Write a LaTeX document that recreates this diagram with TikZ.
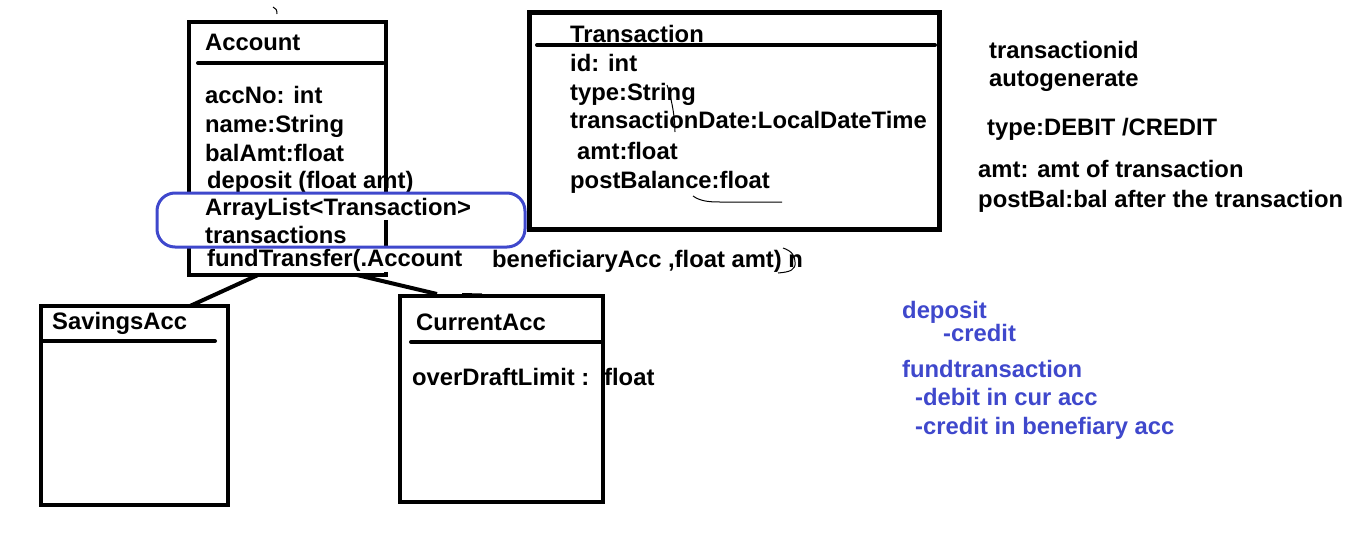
\documentclass[tikz,border=0pt]{standalone}
\usepackage{fontspec}
\setmainfont{Liberation Sans}
\definecolor{paintblue}{HTML}{3F48CC}
\begin{document}
\begin{tikzpicture}[x=1pt,y=-1pt,
  txt/.style={anchor=base west,inner sep=0pt,font=\fontsize{23.8}{28}\selectfont\bfseries},
  bluetxt/.style={txt,text=paintblue},
  umlbox/.style={draw,line width=4.5pt,inner sep=0pt,outer sep=0pt,rectangle},
  sepline/.style={line width=4pt,line cap=round},
  conn/.style={line width=4pt},
  pen/.style={line width=1pt},
  erase/.style={fill=white,draw=none}]
\useasboundingbox (0,0) rectangle (1349,544);

% ---------- Account ----------
\node[umlbox,minimum width=197pt,minimum height=253pt] (acc) at (287.5,148.5) {};
\draw[sepline] (198,63) -- (383,63);
\node[txt] (accT) at (205,50) {Account};
\node[txt] (a1) at (205,103) {accNo: int};
\node[txt] (a2) at (205,132) {name:String};
\node[txt] (a3) at (205,161) {balAmt:float};
\node[txt] (a4) at (207,188) {deposit (float amt)};
\fill[erase] (184,194) rectangle (474,220);
\node[txt] (a5) at (205,215) {ArrayList<Transaction>};
\fill[erase] (184,220) rectangle (350,247);
\node[txt] (a6) at (205,243) {transactions};
\fill[erase] (200,248) rectangle (466,272);
\node[txt] (a7) at (207,266) {fundTransfer(.Account};
\node[txt] (a8) at (492,267) {beneficiaryAcc ,float amt)\ n};
\node[draw=paintblue,line width=3pt,rounded corners=18pt,minimum width=368pt,minimum height=54pt,inner sep=0pt,outer sep=0pt] (hl) at (341,220) {};
\draw[pen] (273,7) .. controls (276,8) and (277,10) .. (277,14);

% ---------- Transaction ----------
\node[umlbox,minimum width=410pt,minimum height=217pt] (trans) at (734.5,120.75) {};
\draw[sepline] (537,45) -- (935,45);
\node[txt] (tT) at (570,42) {Transaction};
\node[txt] (t1) at (570,71) {id: int};
\node[txt] (t2) at (570,100) {type:String};
\node[txt] (t3) at (570,128) {transactionDate:LocalDateTime};
\node[txt] (t4) at (577,159) {amt:float};
\node[txt] (t5) at (570,188) {postBalance:float};
\draw[pen] (667,85) .. controls (672,100) and (675,118) .. (675,132);
\draw[pen] (693,196) .. controls (700,201) and (708,202) .. (720,202) -- (782,202);
\draw[pen] (783,248) .. controls (792,251) and (795,256) .. (795,262) .. controls (796,270) and (790,272) .. (778,273);

% ---------- SavingsAcc ----------
\node[umlbox,minimum width=187pt,minimum height=199pt] (sav) at (134.5,405.5) {};
\draw[sepline] (41,341) -- (215,341);
\node[txt] (sT) at (52,329) {SavingsAcc};

% ---------- CurrentAcc ----------
\node[umlbox,minimum width=203pt,minimum height=206pt] (cur) at (501.5,399) {};
\draw[sepline] (411,342) -- (601,342);
\node[txt] (cT) at (416,330) {CurrentAcc};
\node[txt] (c1) at (412,385) {overDraftLimit :};
\node[txt] (c2) at (604,385) {float};

% ---------- connectors ----------
\draw[conn] ([xshift=69pt]acc.south west) -- ([xshift=149pt]sav.north west);
\draw[conn] ([xshift=168pt]acc.south west) -- ([xshift=37pt,yshift=2pt]cur.north west);
\draw[line width=3pt] ([xshift=62pt,yshift=1.5pt]cur.north west) -- ([xshift=82pt,yshift=1pt]cur.north west);

% ---------- notes ----------
\node[txt] (n1) at (989,58) {transactionid};
\node[txt] (n2) at (989,86) {autogenerate};
\node[txt] (n3) at (987,135) {type:DEBIT /CREDIT};
\node[txt] (n4) at (978,177) {amt: amt of transaction};
\node[txt] (n5) at (978,207) {postBal:bal after the transaction};

\node[bluetxt] (b1) at (902,318) {deposit};
\node[bluetxt] (b2) at (943,341) {-credit};
\node[bluetxt] (b3) at (902,377) {fundtransaction};
\node[bluetxt] (b4) at (915,405) {-debit in cur acc};
\node[bluetxt] (b5) at (915,434) {-credit in benefiary acc};
\end{tikzpicture}
\end{document}
